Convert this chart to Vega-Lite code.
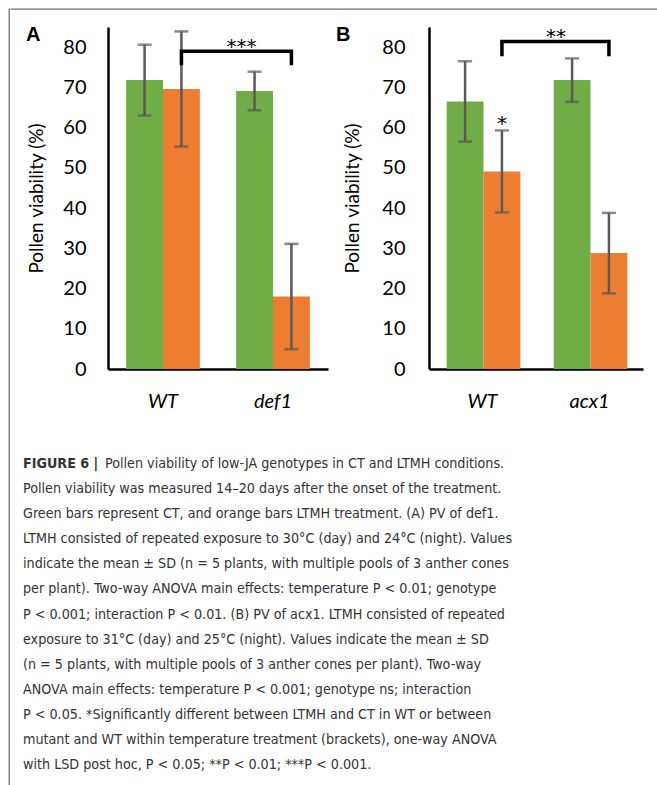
{
  "$schema": "https://vega.github.io/schema/vega-lite/v6.json",
  "padding": {"left": 8, "top": 8, "right": 0, "bottom": 0},
  "background": "white",
  "config": {
    "font": "Lato",
    "view": {"stroke": null},
    "axis": {"grid": false, "ticks": false, "tickSize": 0, "domainColor": "black", "domainWidth": 2.5, "labelColor": "black", "titleColor": "black"}
  },
  "datasets": {
    "def1": [
      {"genotype": "WT", "treatment": "CT", "mean": 71.8, "sd": 8.8},
      {"genotype": "WT", "treatment": "LTMH", "mean": 69.6, "sd": 14.3},
      {"genotype": "def1", "treatment": "CT", "mean": 69.1, "sd": 4.8},
      {"genotype": "def1", "treatment": "LTMH", "mean": 18.0, "sd": 13.1}
    ],
    "acx1": [
      {"genotype": "WT", "treatment": "CT", "mean": 66.5, "sd": 10.0},
      {"genotype": "WT", "treatment": "LTMH", "mean": 49.1, "sd": 10.2},
      {"genotype": "acx1", "treatment": "CT", "mean": 71.8, "sd": 5.4},
      {"genotype": "acx1", "treatment": "LTMH", "mean": 28.8, "sd": 10.0}
    ],
    "bracketA": [
      {"genotype": "WT", "treatment": "LTMH", "pv": 75.5, "step": 1},
      {"genotype": "WT", "treatment": "LTMH", "pv": 79.0, "step": 2},
      {"genotype": "def1", "treatment": "LTMH", "pv": 79.0, "step": 3},
      {"genotype": "def1", "treatment": "LTMH", "pv": 75.5, "step": 4}
    ],
    "bracketB": [
      {"genotype": "WT", "treatment": "LTMH", "pv": 77.7, "step": 1},
      {"genotype": "WT", "treatment": "LTMH", "pv": 81.4, "step": 2},
      {"genotype": "acx1", "treatment": "LTMH", "pv": 81.4, "step": 3},
      {"genotype": "acx1", "treatment": "LTMH", "pv": 77.7, "step": 4}
    ],
    "starsA": [
      {"genotype": "def1", "treatment": "CT", "pv": 79.0, "label": "***"}
    ],
    "starsB": [
      {"genotype": "acx1", "treatment": "CT", "pv": 81.4, "label": "**"}
    ],
    "starB": [
      {"genotype": "WT", "treatment": "LTMH", "pv": 59.3, "label": "*"}
    ],
    "lead": [
      {"line": 1, "text": "FIGURE 6 |"}
    ],
    "caption": [
      {"line": 1, "text": "Pollen viability of low-JA genotypes in CT and LTMH conditions."},
      {"line": 2, "text": "Pollen viability was measured 14–20 days after the onset of the treatment."},
      {"line": 3, "text": "Green bars represent CT, and orange bars LTMH treatment. (A) PV of def1."},
      {"line": 4, "text": "LTMH consisted of repeated exposure to 30°C (day) and 24°C (night). Values"},
      {"line": 5, "text": "indicate the mean ± SD (n = 5 plants, with multiple pools of 3 anther cones"},
      {"line": 6, "text": "per plant). Two-way ANOVA main effects: temperature P < 0.01; genotype"},
      {"line": 7, "text": "P < 0.001; interaction P < 0.01. (B) PV of acx1. LTMH consisted of repeated"},
      {"line": 8, "text": "exposure to 31°C (day) and 25°C (night). Values indicate the mean ± SD"},
      {"line": 9, "text": "(n = 5 plants, with multiple pools of 3 anther cones per plant). Two-way"},
      {"line": 10, "text": "ANOVA main effects: temperature P < 0.001; genotype ns; interaction"},
      {"line": 11, "text": "P < 0.05. *Significantly different between LTMH and CT in WT or between"},
      {"line": 12, "text": "mutant and WT within temperature treatment (brackets), one-way ANOVA"},
      {"line": 13, "text": "with LSD post hoc, P < 0.05; **P < 0.01; ***P < 0.001."}
    ]
  },
  "spacing": 0,
  "hconcat": [
    {
      "width": 0.001,
      "height": 777,
      "view": {"stroke": "#707070", "strokeWidth": 1.3},
      "data": {"values": []},
      "mark": "point"
    },
    {
      "spacing": 15,
      "vconcat": [
        {
          "width": 649,
          "height": 0.001,
          "view": {"stroke": "#707070", "strokeWidth": 1.3},
          "data": {"values": []},
          "mark": "point"
        },
        {
          "spacing": 46,
          "vconcat": [
            {
              "spacing": 8,
              "hconcat": [
                {"width": 7, "height": 0.001, "data": {"values": []}, "mark": "point"},
                {
                  "width": 220,
                  "height": 342,
                  "title": {"text": "A", "anchor": "start", "frame": "group", "font": "Liberation Sans", "fontSize": 20, "fontWeight": "bold", "color": "black", "dx": -82, "offset": 0, "baseline": "alphabetic", "dy": 34},
                  "encoding": {
                    "x": {"field": "genotype", "type": "nominal", "sort": ["WT", "def1"], "scale": {"paddingInner": 0.33, "paddingOuter": 0.165},
                      "axis": {"title": null, "labelAngle": 0, "labelFontSize": 20, "labelFontStyle": "italic", "labelPadding": 22}},
                    "xOffset": {"field": "treatment", "type": "nominal", "sort": ["CT", "LTMH"], "scale": {"paddingInner": 0, "paddingOuter": 0}},
                    "y": {"type": "quantitative", "scale": {"domain": [0, 85], "nice": false},
                      "axis": {"title": "Pollen viability (%)", "values": [0, 10, 20, 30, 40, 50, 60, 70, 80], "labelFontSize": 20, "labelPadding": 22, "titleFontSize": 19, "titleFontWeight": "normal", "titlePadding": 16}}
                  },
                  "layer": [
                    {
                      "data": {"name": "def1"},
                      "mark": {"type": "bar"},
                      "encoding": {
                        "y": {"field": "mean", "type": "quantitative"},
                        "color": {"field": "treatment", "type": "nominal", "scale": {"domain": ["CT", "LTMH"], "range": ["#70AD47", "#ED7D31"]}, "legend": null}
                      }
                    },
                    {
                      "data": {"name": "def1"},
                      "mark": {"type": "errorbar", "ticks": {"size": 14}, "thickness": 2.5, "color": "#595959"},
                      "encoding": {
                        "y": {"field": "mean", "type": "quantitative"},
                        "yError": {"field": "sd"}
                      }
                    },
                    {
                      "data": {"name": "bracketA"},
                      "mark": {"type": "line", "color": "black", "strokeWidth": 3.5, "strokeJoin": "miter"},
                      "encoding": {
                        "y": {"field": "pv", "type": "quantitative"},
                        "order": {"field": "step", "type": "quantitative"}
                      }
                    },
                    {
                      "data": {"name": "starsA"},
                      "mark": {"type": "text", "font": "DejaVu Sans", "fontSize": 20, "color": "black", "baseline": "alphabetic", "dx": -13, "dy": 2},
                      "encoding": {
                        "y": {"field": "pv", "type": "quantitative"},
                        "text": {"field": "label"}
                      }
                    }
                  ]
                },
                {
                  "width": 214,
                  "height": 342,
                  "title": {"text": "B", "anchor": "start", "frame": "group", "font": "Liberation Sans", "fontSize": 20, "fontWeight": "bold", "color": "black", "dx": -93, "offset": 0, "baseline": "alphabetic", "dy": 34},
                  "encoding": {
                    "x": {"field": "genotype", "type": "nominal", "sort": ["WT", "acx1"], "scale": {"paddingInner": 0.33, "paddingOuter": 0.165},
                      "axis": {"title": null, "labelAngle": 0, "labelFontSize": 20, "labelFontStyle": "italic", "labelPadding": 22}},
                    "xOffset": {"field": "treatment", "type": "nominal", "sort": ["CT", "LTMH"], "scale": {"paddingInner": 0, "paddingOuter": 0}},
                    "y": {"type": "quantitative", "scale": {"domain": [0, 85], "nice": false},
                      "axis": {"title": "Pollen viability (%)", "values": [0, 10, 20, 30, 40, 50, 60, 70, 80], "labelFontSize": 20, "labelPadding": 24, "titleFontSize": 19, "titleFontWeight": "normal", "titlePadding": 19}}
                  },
                  "layer": [
                    {
                      "data": {"name": "acx1"},
                      "mark": {"type": "bar"},
                      "encoding": {
                        "y": {"field": "mean", "type": "quantitative"},
                        "color": {"field": "treatment", "type": "nominal", "scale": {"domain": ["CT", "LTMH"], "range": ["#70AD47", "#ED7D31"]}, "legend": null}
                      }
                    },
                    {
                      "data": {"name": "acx1"},
                      "mark": {"type": "errorbar", "ticks": {"size": 14}, "thickness": 2.5, "color": "#595959"},
                      "encoding": {
                        "y": {"field": "mean", "type": "quantitative"},
                        "yError": {"field": "sd"}
                      }
                    },
                    {
                      "data": {"name": "bracketB"},
                      "mark": {"type": "line", "color": "black", "strokeWidth": 3.5, "strokeJoin": "miter"},
                      "encoding": {
                        "y": {"field": "pv", "type": "quantitative"},
                        "order": {"field": "step", "type": "quantitative"}
                      }
                    },
                    {
                      "data": {"name": "starsB"},
                      "mark": {"type": "text", "font": "DejaVu Sans", "fontSize": 20, "color": "black", "baseline": "alphabetic", "dx": -16, "dy": 2},
                      "encoding": {
                        "y": {"field": "pv", "type": "quantitative"},
                        "text": {"field": "label"}
                      }
                    },
                    {
                      "data": {"name": "starB"},
                      "mark": {"type": "text", "font": "DejaVu Sans", "fontSize": 20, "color": "black", "baseline": "alphabetic", "dy": 0},
                      "encoding": {
                        "y": {"field": "pv", "type": "quantitative"},
                        "text": {"field": "label"}
                      }
                    }
                  ]
                }
              ]
            },
            {
              "width": 630,
              "height": 301,
              "encoding": {
                "x": {"value": 0},
                "y": {"field": "line", "type": "ordinal", "axis": null, "scale": {"type": "point", "padding": 0}}
              },
              "layer": [
                {
                  "data": {"name": "lead"},
                  "mark": {"type": "text", "align": "left", "baseline": "middle", "font": "DejaVu Sans Condensed, Roboto", "fontSize": 14.2, "fontWeight": "bold", "color": "#333333", "dx": 12},
                  "encoding": {"text": {"field": "text"}}
                },
                {
                  "data": {"name": "caption"},
                  "transform": [{"filter": "datum.line == 1"}],
                  "mark": {"type": "text", "align": "left", "baseline": "middle", "font": "DejaVu Sans Condensed, Roboto", "fontSize": 14.2, "color": "#333333", "dx": 94},
                  "encoding": {"text": {"field": "text"}}
                },
                {
                  "data": {"name": "caption"},
                  "transform": [{"filter": "datum.line > 1"}],
                  "mark": {"type": "text", "align": "left", "baseline": "middle", "font": "DejaVu Sans Condensed, Roboto", "fontSize": 14.2, "color": "#333333", "dx": 12},
                  "encoding": {"text": {"field": "text"}}
                }
              ]
            }
          ]
        }
      ]
    }
  ]
}
